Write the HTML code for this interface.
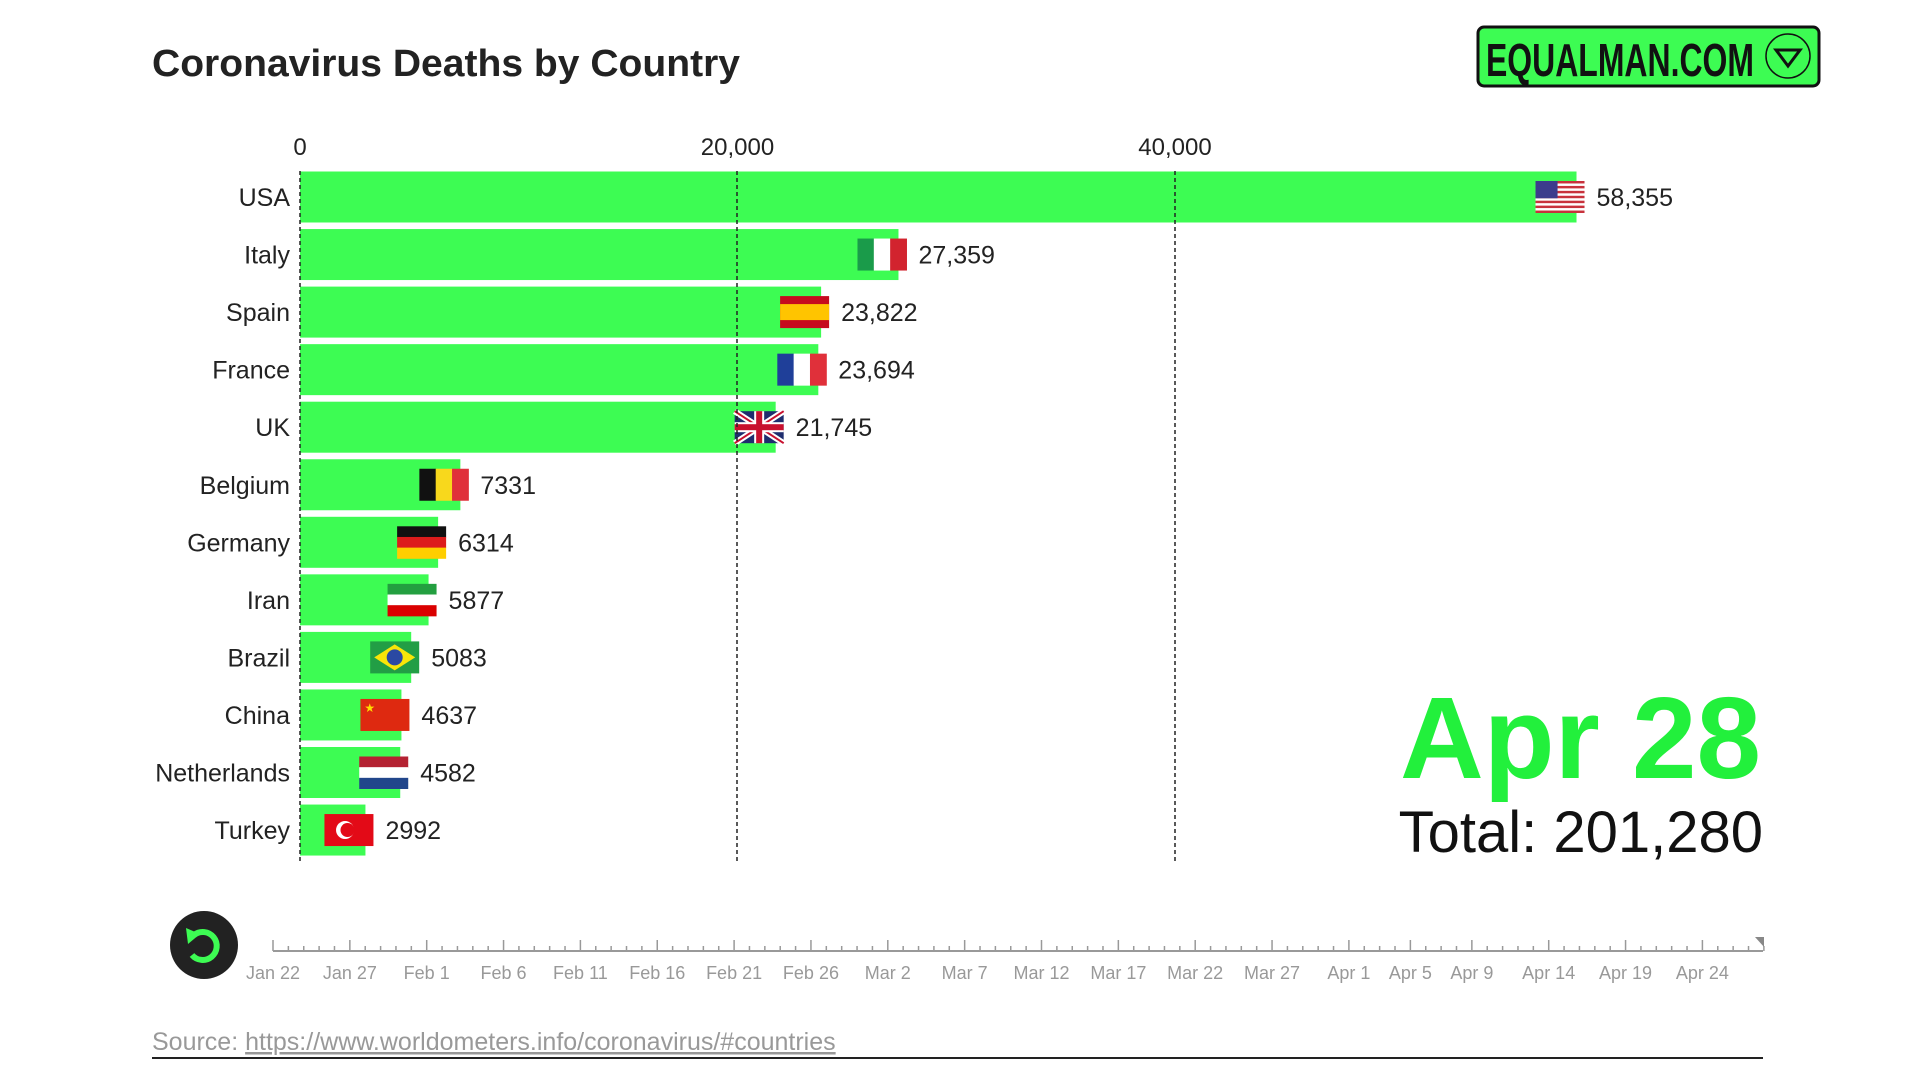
<!DOCTYPE html>
<html><head><meta charset="utf-8"><style>
html,body{margin:0;padding:0;background:#fff;width:1920px;height:1080px;overflow:hidden}
svg{display:block}
text{font-family:"Liberation Sans",sans-serif}
</style></head><body>
<svg id="s" width="1920" height="1080" viewBox="0 0 1920 1080" xmlns="http://www.w3.org/2000/svg">
<rect width="1920" height="1080" fill="#fff"/>
<text x="152" y="76" font-size="38" font-weight="bold" fill="#222" textLength="588" lengthAdjust="spacingAndGlyphs">Coronavirus Deaths by Country</text>
<rect x="1478" y="27" width="341" height="59" rx="6" fill="#3dfc53" stroke="#111" stroke-width="3"/>
<text x="1486" y="76" font-size="46" font-weight="bold" fill="#111" textLength="268" lengthAdjust="spacingAndGlyphs">EQUALMAN.COM</text>
<circle cx="1788" cy="56" r="22" fill="none" stroke="#111" stroke-width="1.5"/>
<path d="M1776 50 L1800 50 L1788 66 Z" fill="none" stroke="#111" stroke-width="3"/>
<g id="g"></g>
<text x="1761" y="778" font-size="116" font-weight="bold" fill="#22f03c" text-anchor="end">Apr 28</text>
<text x="1763" y="852" font-size="58" fill="#111" text-anchor="end">Total: 201,280</text>
<circle cx="204" cy="945" r="34" fill="#222"/>
<path d="M194 935 A14 14 0 1 1 192 955" fill="none" stroke="#3dfc53" stroke-width="6"/>
<path d="M186 928 L200 934 L188 944 Z" fill="#3dfc53"/>
<line x1="273" y1="951" x2="1763" y2="951" stroke="#999" stroke-width="2"/>
<path d="M1755 937 L1764 937 L1764 947 Z" fill="#888"/>
<text x="152" y="1050" font-size="25" fill="#999">Source: <tspan text-decoration="underline">https://www.worldometers.info/coronavirus/#countries</tspan></text>
<line x1="152" y1="1058" x2="1763" y2="1058" stroke="#222" stroke-width="2"/>
</svg>
<script>
var g=document.getElementById('g'),h='';
var x0=300,k=437.5/20000;
[[0,'0'],[20000,'20,000'],[40000,'40,000']].forEach(function(t){var x=x0+t[0]*k;
h+='<text x="'+x+'" y="155" font-size="24" fill="#222" text-anchor="middle">'+t[1]+'</text>';});
var d=[['USA',58355,'58,355','us'],['Italy',27359,'27,359','it'],['Spain',23822,'23,822','es'],['France',23694,'23,694','fr'],['UK',21745,'21,745','uk'],['Belgium',7331,'7331','be'],['Germany',6314,'6314','de'],['Iran',5877,'5877','ir'],['Brazil',5083,'5083','br'],['China',4637,'4637','cn'],['Netherlands',4582,'4582','nl'],['Turkey',2992,'2992','tr']];
function flag(c,x,y,w,hh){var s='';var t=w/3,r=hh/3;
if(c=='us'){for(var i=0;i<7;i++)s+='<rect x="'+x+'" y="'+(y+i*hh/6.5)+'" width="'+w+'" height="'+(hh/13)+'" fill="#c8323c"/>';s='<rect x="'+x+'" y="'+y+'" width="'+w+'" height="'+hh+'" fill="#fff"/>'+s+'<rect x="'+x+'" y="'+y+'" width="'+(w*0.45)+'" height="'+(hh*0.54)+'" fill="#3c3c8c"/>';}
else if(c=='it'||c=='fr'||c=='be'){var cs={it:['#1a9b4a','#fff','#d2232e'],fr:['#1f3f99','#fff','#e0303a'],be:['#111','#f8d81c','#e0303a']}[c];for(var i=0;i<3;i++)s+='<rect x="'+(x+i*t)+'" y="'+y+'" width="'+(t+0.5)+'" height="'+hh+'" fill="'+cs[i]+'"/>';}
else if(c=='de'||c=='nl'||c=='ir'){var cs={de:['#111','#dd1c1c','#ffce00'],nl:['#b42232','#fff','#21468b'],ir:['#239f40','#fff','#da0000']}[c];for(var i=0;i<3;i++)s+='<rect x="'+x+'" y="'+(y+i*r)+'" width="'+w+'" height="'+(r+0.5)+'" fill="'+cs[i]+'"/>';}
else if(c=='es'){s='<rect x="'+x+'" y="'+y+'" width="'+w+'" height="'+hh+'" fill="#c60b1e"/><rect x="'+x+'" y="'+(y+hh/4)+'" width="'+w+'" height="'+(hh/2)+'" fill="#ffc400"/>';}
else if(c=='uk'){s='<rect x="'+x+'" y="'+y+'" width="'+w+'" height="'+hh+'" fill="#1f2d6e"/><path d="M'+x+' '+y+'L'+(x+w)+' '+(y+hh)+'M'+(x+w)+' '+y+'L'+x+' '+(y+hh)+'" stroke="#fff" stroke-width="6"/><path d="M'+x+' '+y+'L'+(x+w)+' '+(y+hh)+'M'+(x+w)+' '+y+'L'+x+' '+(y+hh)+'" stroke="#c8102e" stroke-width="2"/><rect x="'+x+'" y="'+(y+hh/2-5)+'" width="'+w+'" height="10" fill="#fff"/><rect x="'+(x+w/2-5)+'" y="'+y+'" width="10" height="'+hh+'" fill="#fff"/><rect x="'+x+'" y="'+(y+hh/2-3)+'" width="'+w+'" height="6" fill="#c8102e"/><rect x="'+(x+w/2-3)+'" y="'+y+'" width="6" height="'+hh+'" fill="#c8102e"/>';}
else if(c=='br'){s='<rect x="'+x+'" y="'+y+'" width="'+w+'" height="'+hh+'" fill="#229e45"/><path d="M'+(x+4)+' '+(y+hh/2)+'L'+(x+w/2)+' '+(y+3)+'L'+(x+w-4)+' '+(y+hh/2)+'L'+(x+w/2)+' '+(y+hh-3)+'Z" fill="#f8e509"/><circle cx="'+(x+w/2)+'" cy="'+(y+hh/2)+'" r="8" fill="#2b49a3"/>';}
else if(c=='cn'){s='<rect x="'+x+'" y="'+y+'" width="'+w+'" height="'+hh+'" fill="#de2910"/><text x="'+(x+4)+'" y="'+(y+13)+'" font-size="12" fill="#ffde00">★</text>';}
else if(c=='tr'){s='<rect x="'+x+'" y="'+y+'" width="'+w+'" height="'+hh+'" fill="#e30a17"/><circle cx="'+(x+w*0.42)+'" cy="'+(y+hh/2)+'" r="9" fill="#fff"/><circle cx="'+(x+w*0.47)+'" cy="'+(y+hh/2)+'" r="7" fill="#e30a17"/>';}
return s;}
d.forEach(function(r,i){var cy=197+i*57.55,e=x0+r[1]*k;
h+='<rect x="'+x0+'" y="'+(cy-25.5)+'" width="'+(e-x0)+'" height="51" fill="#3dfc53"/>';
h+='<text x="290" y="'+(cy+9)+'" font-size="25" fill="#222" text-anchor="end">'+r[0]+'</text>';
h+=flag(r[3],e-41,cy-16,49,32);
h+='<text x="'+(e+20)+'" y="'+(cy+9)+'" font-size="25" fill="#222">'+r[2]+'</text>';});
[300,737,1175].forEach(function(x){h+='<line x1="'+x+'" y1="171" x2="'+x+'" y2="861" stroke="#222" stroke-width="1.5" stroke-dasharray="4,3"/>';});
for(var dd=0;dd<=97;dd++){var x=273+dd*15.37;var maj=[0,5,10,15,20,25,30,35,40,45,50,55,60,65,70,74,78,83,88,93].indexOf(dd)>=0;
h+='<line x1="'+x+'" y1="951" x2="'+x+'" y2="'+(maj?940:946)+'" stroke="#999" stroke-width="1.5"/>';}
var L=[[0,'Jan 22'],[5,'Jan 27'],[10,'Feb 1'],[15,'Feb 6'],[20,'Feb 11'],[25,'Feb 16'],[30,'Feb 21'],[35,'Feb 26'],[40,'Mar 2'],[45,'Mar 7'],[50,'Mar 12'],[55,'Mar 17'],[60,'Mar 22'],[65,'Mar 27'],[70,'Apr 1'],[74,'Apr 5'],[78,'Apr 9'],[83,'Apr 14'],[88,'Apr 19'],[93,'Apr 24']];
L.forEach(function(l){h+='<text x="'+(273+l[0]*15.37)+'" y="979" font-size="18" fill="#999" text-anchor="middle">'+l[1]+'</text>';});
g.innerHTML=h;
</script>
</body></html>
